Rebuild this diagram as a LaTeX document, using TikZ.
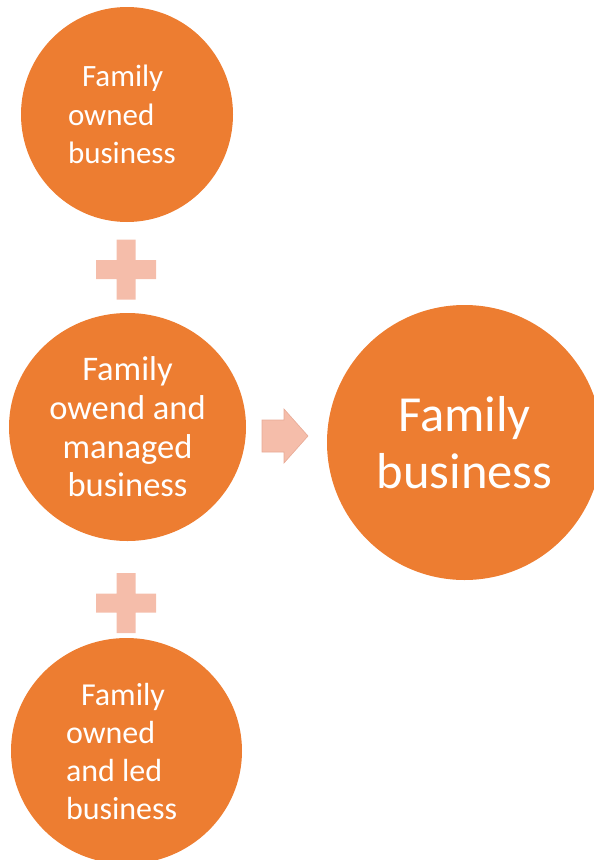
\documentclass[tikz,border=0pt]{standalone}
\usepackage{fontspec}
\setmainfont{Carlito}
\usetikzlibrary{shapes.geometric}
\definecolor{orng}{RGB}{237,125,49}
\definecolor{pnk}{RGB}{245,189,170}
\definecolor{pnkedge}{RGB}{232,170,150}
\tikzset{
  blob/.style={ellipse, fill=orng, draw=none, inner sep=0pt, text=white},
  smalltext/.style={font=\fontsize{31}{38.5}\selectfont},
  midtext/.style={font=\fontsize{34.5}{38.7}\selectfont},
  lowtext/.style={font=\fontsize{32}{38}\selectfont},
  bigtext/.style={font=\fontsize{50.5}{57}\selectfont},
  plusfill/.style={fill=pnk, draw=none},
  arrowfill/.style={fill=pnk, draw=pnkedge, line width=0.6pt, line join=miter}
}
\begin{document}
\begin{tikzpicture}[x=1pt, y=-1pt]
\useasboundingbox (0,0) rectangle (594,860);
\clip (0,0) rectangle (594,860);
% circles
\node[blob, smalltext, minimum width=212pt, minimum height=215pt, align=flush left, text width=118pt]
  (own) at (127,114.5) {\hspace*{14pt}Family\\owned\\business};
\node[blob, midtext, minimum width=237pt, minimum height=228pt, align=center]
  (man) at (127.5,427) {Family\\owend and\\managed\\business};
\node[blob, lowtext, minimum width=231pt, minimum height=226pt, align=flush left, text width=121pt]
  (led) at (126.5,751) {\hspace*{15pt}Family\\owned\\and led\\business};
\node[blob, bigtext, minimum width=275pt, minimum height=275pt, align=center]
  (fam) at (464.5,442.5) {Family\\business};
% plus signs
\coordinate (p1) at (126,269.5);
\coordinate (p2) at (126,603);
\foreach \p in {p1,p2}{
  \fill[plusfill] ([shift={(-9.5,-30)}]\p) -- ([shift={(9.5,-30)}]\p) -- ([shift={(9.5,-9.5)}]\p)
    -- ([shift={(30,-9.5)}]\p) -- ([shift={(30,9.5)}]\p) -- ([shift={(9.5,9.5)}]\p)
    -- ([shift={(9.5,30)}]\p) -- ([shift={(-9.5,30)}]\p) -- ([shift={(-9.5,9.5)}]\p)
    -- ([shift={(-30,9.5)}]\p) -- ([shift={(-30,-9.5)}]\p) -- ([shift={(-9.5,-9.5)}]\p) -- cycle;
}
% arrow
\coordinate (ar) at (262,436);
\draw[arrowfill] ([shift={(0,-16)}]ar) -- ([shift={(22,-16)}]ar) -- ([shift={(22,-27)}]ar)
  -- ([shift={(46,0)}]ar) -- ([shift={(22,27)}]ar) -- ([shift={(22,16)}]ar)
  -- ([shift={(0,16)}]ar) -- cycle;
\end{tikzpicture}
\end{document}
